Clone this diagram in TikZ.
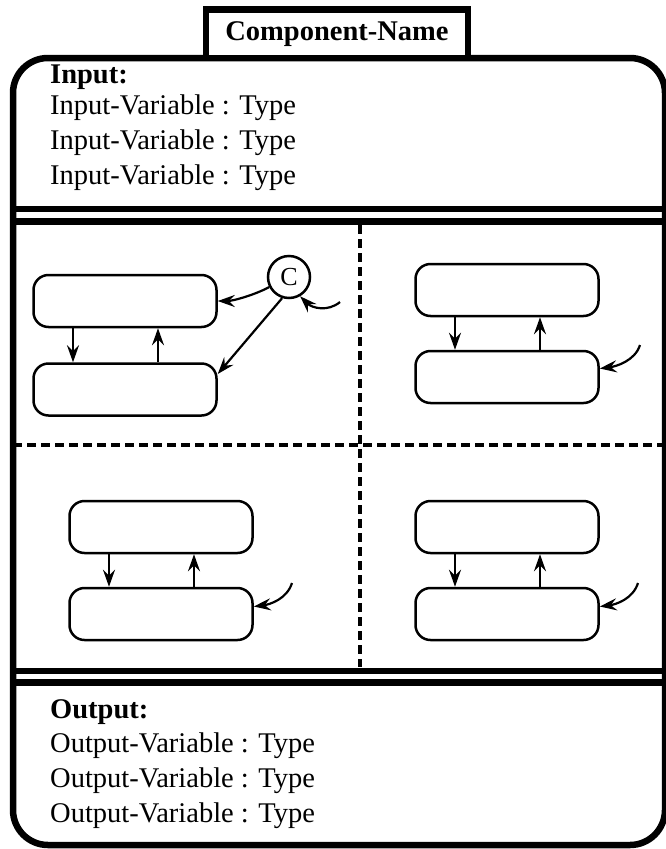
\documentclass[tikz,border=0pt]{standalone}
\usepackage{fontspec}
\setmainfont{Liberation Serif}
\usetikzlibrary{arrows.meta}

\tikzset{
  heavy/.style={line width=6.5pt},
  statebox/.style={draw, line width=2.5pt, rounded corners=15pt, minimum width=183pt, minimum height=52pt, inner sep=0pt},
  connector/.style={draw, circle, line width=2.5pt, minimum size=42pt, inner sep=0pt, font=\fontsize{26}{30}\selectfont},
  trans/.style={line width=2.2pt, -{Stealth[length=17pt,width=12pt,inset=6pt]}},
  divider/.style={line width=3.5pt, dash pattern=on 9pt off 5pt},
  vartext/.style={anchor=west, inner sep=0pt, font=\fontsize{28.5}{34}\selectfont},
  headtext/.style={vartext, font=\bfseries\fontsize{28.5}{34}\selectfont},
}

\begin{document}
\begin{tikzpicture}[x=1pt, y=-1pt]
  \useasboundingbox (0,0) rectangle (666,849);

  % outer frame and compartments
  \draw[heavy, rounded corners=35pt] (13,58) rectangle (665,845);
  \node[draw, heavy, fill=white, minimum width=262pt, minimum height=48.5pt, inner sep=0pt,
        font=\bfseries\fontsize{28.5}{34}\selectfont] (title) at (337,33.75) {Component-Name\hspace{12pt}};
  \draw[heavy] (13,209) -- (665,209);
  \draw[heavy] (13,221.5) -- (665,221.5);
  \draw[heavy] (13,671) -- (665,671);
  \draw[heavy] (13,682.5) -- (665,682.5);
  \draw[divider] (360,225) -- (360,667);
  \draw[divider] (13,445) -- (665,445);

  % input
  \node[headtext] (inhead) at (50,77) {Input:};
  \node[vartext] (invar1) at (50,107.5) {Input-Variable : Type};
  \node[vartext] (invar2) at (50,142.5) {Input-Variable : Type};
  \node[vartext] (invar3) at (50,177.5) {Input-Variable : Type};

  % output
  \node[headtext] (outhead) at (50,712.5) {Output:};
  \node[vartext] (outvar1) at (50,746) {Output-Variable : Type};
  \node[vartext] (outvar2) at (50,781) {Output-Variable : Type};
  \node[vartext] (outvar3) at (50,816) {Output-Variable : Type};

  % top left region
  \node[statebox] (tlup) at (125,301) {};
  \node[statebox] (tllow) at (125,389.5) {};
  \node[connector] (cond) at (289,277) {C};
  \coordinate (tlin) at (340,302);
  \draw[trans] ([xshift=-52pt]tlup.south) -- ([xshift=-52pt]tllow.north);
  \draw[trans] ([xshift=33pt]tllow.north) -- ([xshift=33pt]tlup.south);
  \draw[trans] (cond.207) .. controls +(-15,8) and +(15,0) .. (tlup.east);
  \draw[trans] (cond.252) -- ([yshift=15.5pt]tllow.east);
  \draw[trans] (tlin) .. controls +(-12,10) and +(12,12) .. (cond.-60);

  % top right region
  \node[statebox] (trup) at (507,290) {};
  \node[statebox] (trlow) at (507,377) {};
  \coordinate (trin) at (640,345);
  \draw[trans] ([xshift=-52pt]trup.south) -- ([xshift=-52pt]trlow.north);
  \draw[trans] ([xshift=33pt]trlow.north) -- ([xshift=33pt]trup.south);
  \draw[trans] (trin) .. controls +(-5,16) and +(16,-2) .. ([yshift=8.5pt]trlow.east);

  % bottom left region
  \node[statebox] (blup) at (161,527) {};
  \node[statebox] (bllow) at (161,614) {};
  \coordinate (blin) at (292,583);
  \draw[trans] ([xshift=-52pt]blup.south) -- ([xshift=-52pt]bllow.north);
  \draw[trans] ([xshift=33pt]bllow.north) -- ([xshift=33pt]blup.south);
  \draw[trans] (blin) .. controls +(-5,16) and +(16,-2) .. ([yshift=7.5pt]bllow.east);

  % bottom right region
  \node[statebox] (brup) at (507,527) {};
  \node[statebox] (brlow) at (507,614) {};
  \coordinate (brin) at (638,583);
  \draw[trans] ([xshift=-52pt]brup.south) -- ([xshift=-52pt]brlow.north);
  \draw[trans] ([xshift=33pt]brlow.north) -- ([xshift=33pt]brup.south);
  \draw[trans] (brin) .. controls +(-5,16) and +(16,-2) .. ([yshift=7.5pt]brlow.east);
\end{tikzpicture}
\end{document}
